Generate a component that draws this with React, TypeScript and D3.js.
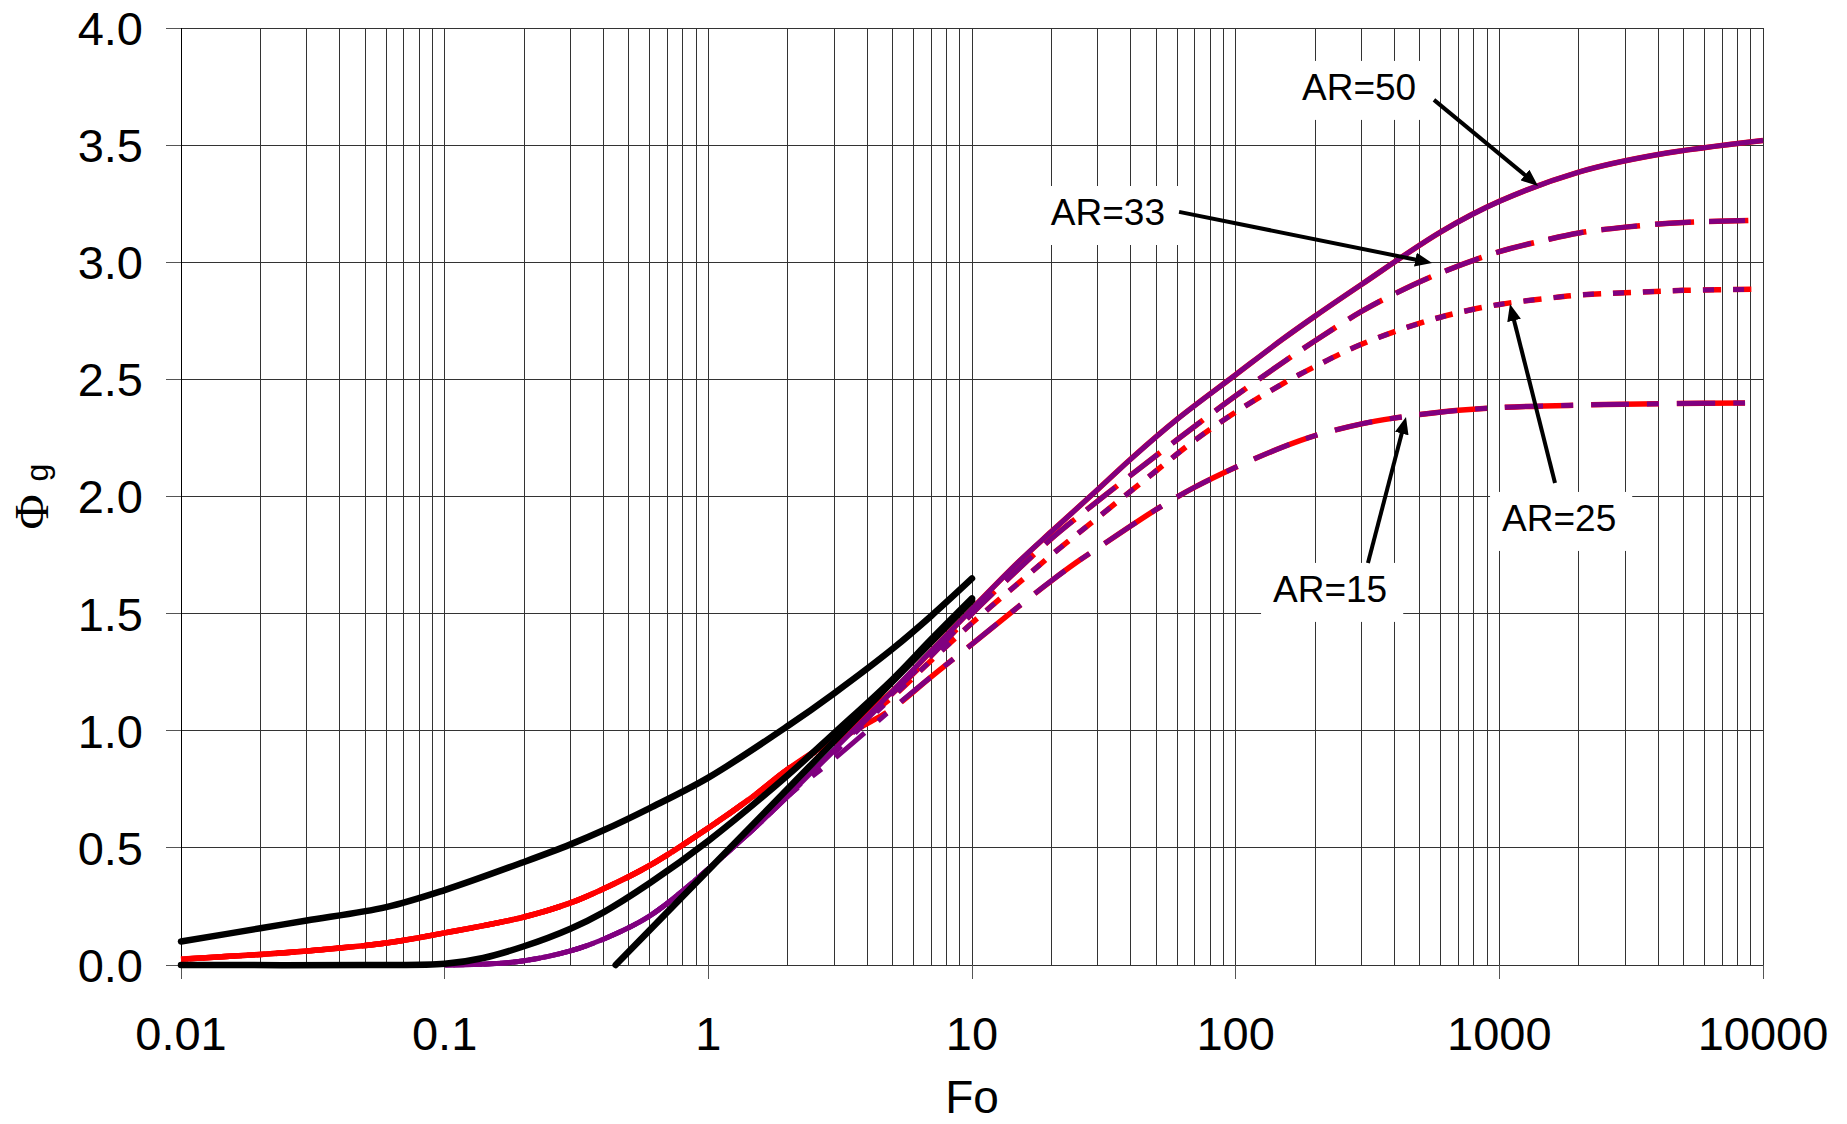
import React, { useEffect, useRef } from "react";
import * as d3 from "d3";

const width = 1847;
const height = 1124;
const plot = { left: 181, right: 1763, top: 28, bottom: 965 };

// x tick labels (decades)
const foDecades = [0.01, 0.1, 1, 10, 100, 1000, 10000];
const foDecadeLabels = ["0.01", "0.1", "1", "10", "100", "1000", "10000"];

// black curves (end at Fo = 10)
const foBlackUpper = [0.01, 0.02, 0.03, 0.06, 0.1, 0.2, 0.3, 0.4, 0.6, 1, 2, 3, 5, 7, 10];
const phiBlackUpper = [0.1, 0.157, 0.19, 0.247, 0.32, 0.44, 0.515, 0.575, 0.67, 0.8, 1.02, 1.16, 1.35, 1.49, 1.65];
const foBlackMiddle = [0.01, 0.05, 0.1, 0.14, 0.2, 0.3, 0.4, 0.6, 1, 2, 3, 5, 7, 10];
const phiBlackMiddle = [0, 0, 0.005, 0.03, 0.08, 0.155, 0.225, 0.35, 0.53, 0.81, 0.99, 1.22, 1.39, 1.565];
const foBlackLine = [0.445, 1, 3, 10];
const phiBlackLine = [0, 0.405, 0.955, 1.556];

// red curves share the early part
const foRedEarly = [0.01, 0.02, 0.03, 0.06, 0.1, 0.2, 0.3, 0.4, 0.6, 1, 1.5, 2];
const phiRedEarly = [0.025, 0.045, 0.06, 0.094, 0.137, 0.205, 0.265, 0.325, 0.425, 0.585, 0.725, 0.835];
const foRedBridge = [3, 4];
const phiRedBridge50 = [0.97, 1.08];
const phiRedBridge33 = [0.965, 1.07];
const phiRedBridge25 = [0.96, 1.06];
const phiRedBridge15 = [0.95, 1.03];

// purple curves share the early part
const foPurpleEarly = [0.1, 0.15, 0.2, 0.3, 0.4, 0.6, 1, 1.5, 2];
const phiPurpleEarly = [0, 0.005, 0.018, 0.06, 0.11, 0.21, 0.41, 0.585, 0.72];

// late part per aspect ratio
const foLate50 = [3, 4, 5, 7, 10, 15, 20, 30, 40, 60, 100, 150, 200, 300, 600, 1000, 2000, 4000, 10000];
const phiLate50 = [0.92, 1.06, 1.17, 1.34, 1.52, 1.72, 1.85, 2.03, 2.16, 2.33, 2.52, 2.67, 2.77, 2.905, 3.13, 3.26, 3.385, 3.46, 3.52];
const foLate33 = [3, 4, 5, 7, 10, 15, 20, 25, 35, 50, 70, 100, 150, 200, 300, 400, 600, 1000, 1500, 2000, 3000, 5000, 10000];
const phiLate33 = [0.915, 1.05, 1.16, 1.32, 1.5, 1.69, 1.82, 1.91, 2.04, 2.175, 2.3, 2.43, 2.57, 2.665, 2.79, 2.865, 2.955, 3.045, 3.095, 3.125, 3.15, 3.17, 3.18];
const foLate25 = [3, 4, 5, 7, 10, 15, 20, 30, 50, 70, 100, 150, 200, 300, 500, 700, 1000, 1500, 2000, 3000, 5000, 10000];
const phiLate25 = [0.905, 1.04, 1.145, 1.3, 1.46, 1.63, 1.75, 1.91, 2.11, 2.24, 2.36, 2.48, 2.555, 2.65, 2.74, 2.785, 2.82, 2.845, 2.86, 2.87, 2.88, 2.885];
const foLate15 = [3, 4, 5, 7, 10, 15, 20, 25, 30, 50, 70, 100, 150, 200, 300, 400, 500, 700, 1000, 2000, 4000, 10000];
const phiLate15 = [0.88, 1.0, 1.095, 1.23, 1.37, 1.53, 1.64, 1.72, 1.78, 1.945, 2.04, 2.125, 2.21, 2.26, 2.31, 2.335, 2.35, 2.368, 2.38, 2.39, 2.396, 2.4];

// annotations
const arLabels = ["AR=50", "AR=33", "AR=25", "AR=15"];
const arLabelFo = [178.5, 19.9, 1024, 138.6];
const arLabelPhi = [3.693, 3.159, 1.853, 1.55];
const arFromFo = [565, 61, 1626, 317.5];
const arFromPhi = [3.693, 3.215, 2.058, 1.716];
const arToFo = [1402, 555.6, 1097, 442.6];
const arToPhi = [3.326, 2.997, 2.822, 2.339];

const sans = "'Liberation Sans', Arial, sans-serif";

const App = () => {
  const ref = useRef<SVGSVGElement>(null);

  useEffect(() => {
    const svg = d3.select(ref.current);
    svg.selectAll("*").remove();

    const x = d3.scaleLog().domain([0.01, 10000]).range([plot.left, plot.right]);
    const y = d3.scaleLinear().domain([0, 4]).range([plot.bottom, plot.top]);

    svg
      .append("defs")
      .append("marker")
      .attr("id", "arrowHead")
      .attr("markerUnits", "userSpaceOnUse")
      .attr("markerWidth", 17)
      .attr("markerHeight", 14)
      .attr("refX", 7)
      .attr("refY", 7)
      .attr("orient", "auto")
      .append("path")
      .attr("d", "M0,0 L17,7 L0,14 Z")
      .attr("fill", "#000");

    // grid
    const grid = svg.append("g").attr("shape-rendering", "crispEdges");
    grid
      .selectAll("line.v")
      .data(x.ticks())
      .enter()
      .append("line")
      .attr("x1", d => x(d))
      .attr("x2", d => x(d))
      .attr("y1", plot.top)
      .attr("y2", plot.bottom)
      .attr("stroke", "#333")
      .attr("stroke-width", 1);
    grid
      .selectAll("line.h")
      .data(y.ticks(8))
      .enter()
      .append("line")
      .attr("x1", plot.left)
      .attr("x2", plot.right)
      .attr("y1", d => y(d))
      .attr("y2", d => y(d))
      .attr("stroke", "#333")
      .attr("stroke-width", 1);

    // axes ticks
    grid
      .selectAll("line.yt")
      .data(y.ticks(8))
      .enter()
      .append("line")
      .attr("x1", plot.left - 15)
      .attr("x2", plot.left)
      .attr("y1", d => y(d))
      .attr("y2", d => y(d))
      .attr("stroke", "#555");
    grid
      .selectAll("line.xt")
      .data(foDecades)
      .enter()
      .append("line")
      .attr("x1", d => x(d))
      .attr("x2", d => x(d))
      .attr("y1", plot.bottom)
      .attr("y2", plot.bottom + 14)
      .attr("stroke", "#555");
    grid
      .append("line")
      .attr("x1", plot.left)
      .attr("x2", plot.left)
      .attr("y1", plot.top)
      .attr("y2", plot.bottom)
      .attr("stroke", "#000");

    const line = d3
      .line<[number, number]>()
      .x(d => x(d[0]))
      .y(d => y(d[1]))
      .curve(d3.curveCatmullRom.alpha(0.5));

    const zip = (fo: number[], phi: number[]) => fo.map((f, i) => [f, phi[i]] as [number, number]);

    const drawCurve = (pts: [number, number][], color: string, w: number, dash: number[] | null, cap = "butt") => {
      const p = svg
        .append("path")
        .attr("d", line(pts))
        .attr("fill", "none")
        .attr("stroke", color)
        .attr("stroke-width", w)
        .attr("stroke-linecap", cap)
        .attr("stroke-linejoin", "round");
      if (dash) {
        // anchor the dash pattern at the curve's right end so red and purple stay in phase
        const period = d3.sum(dash);
        const len = (p.node() as SVGPathElement).getTotalLength();
        p.attr("stroke-dasharray", dash.join(" ")).attr("stroke-dashoffset", period - (len % period));
      }
    };

    const redEarly = zip(foRedEarly, phiRedEarly);
    const purpleEarly = zip(foPurpleEarly, phiPurpleEarly);
    const bridge = (phi: number[]) => zip(foRedBridge, phi);

    const cases = [
      { fo: foLate15, phi: phiLate15, bridge: phiRedBridge15, red: [68, 18], purple: [38, 18, 12, 18] },
      { fo: foLate25, phi: phiLate25, bridge: phiRedBridge25, red: [18, 12], purple: [11, 19] },
      { fo: foLate33, phi: phiLate33, bridge: phiRedBridge33, red: [39, 15], purple: [36, 18] },
      { fo: foLate50, phi: phiLate50, bridge: phiRedBridge50, red: null, purple: null }
    ];

    cases.forEach(c => {
      const late = zip(c.fo, c.phi);
      drawCurve([...redEarly, ...bridge(c.bridge), ...late.slice(2)], "#ff0000", 5.5, c.red);
    });
    cases.forEach(c => {
      const late = zip(c.fo, c.phi);
      drawCurve([...purpleEarly, ...late], "#800080", 5, c.purple);
    });

    drawCurve(zip(foBlackLine, phiBlackLine), "#000", 6.5, null, "round");
    drawCurve(zip(foBlackMiddle, phiBlackMiddle), "#000", 6.5, null, "round");
    drawCurve(zip(foBlackUpper, phiBlackUpper), "#000", 6.5, null, "round");

    // annotations
    arLabels.forEach((label, i) => {
      const tx = x(arLabelFo[i]);
      const ty = y(arLabelPhi[i]);
      const g = svg.append("g");
      const rect = g.append("rect").attr("fill", "#fff");
      const t = g
        .append("text")
        .attr("x", tx)
        .attr("y", ty)
        .attr("font-family", sans)
        .attr("font-size", 37)
        .attr("fill", "#000")
        .text(label);
      const tl = (t.node() as SVGTextElement).getComputedTextLength();
      rect
        .attr("x", tx - 12)
        .attr("y", ty - 39)
        .attr("width", tl + 28)
        .attr("height", 59);

      const x1 = x(arFromFo[i]);
      const y1 = y(arFromPhi[i]);
      const x2 = x(arToFo[i]);
      const y2 = y(arToPhi[i]);
      const dl = Math.hypot(x2 - x1, y2 - y1);
      const k = (dl - 10) / dl;
      svg
        .append("line")
        .attr("x1", x1)
        .attr("y1", y1)
        .attr("x2", x1 + (x2 - x1) * k)
        .attr("y2", y1 + (y2 - y1) * k)
        .attr("stroke", "#000")
        .attr("stroke-width", 4)
        .attr("marker-end", "url(#arrowHead)");
    });

    // tick labels
    svg
      .append("g")
      .selectAll("text")
      .data(y.ticks(8))
      .enter()
      .append("text")
      .attr("x", 143)
      .attr("y", d => y(d))
      .attr("dy", "0.36em")
      .attr("text-anchor", "end")
      .attr("font-family", sans)
      .attr("font-size", 47)
      .text(d => d3.format(".1f")(d));

    svg
      .append("g")
      .selectAll("text")
      .data(foDecades)
      .enter()
      .append("text")
      .attr("x", d => x(d))
      .attr("y", 1050)
      .attr("text-anchor", "middle")
      .attr("font-family", sans)
      .attr("font-size", 47)
      .text((d, i) => foDecadeLabels[i]);

    svg
      .append("text")
      .attr("x", (plot.left + plot.right) / 2)
      .attr("y", 1113)
      .attr("text-anchor", "middle")
      .attr("font-family", sans)
      .attr("font-size", 46)
      .text("Fo");

    const yt = svg
      .append("text")
      .attr("transform", `translate(48,${(plot.top + plot.bottom) / 2}) rotate(-90)`)
      .attr("text-anchor", "middle");
    yt.append("tspan")
      .attr("font-family", "'Liberation Serif', 'Times New Roman', serif")
      .attr("font-size", 48)
      .text("Φ");
    yt.append("tspan")
      .attr("font-family", sans)
      .attr("font-size", 32)
      .attr("dx", 4)
      .text(" g");
  }, []);

  return (
    <svg
      ref={ref}
      width={width}
      height={height}
      style={{ position: "absolute", left: 0, top: 0, background: "#fff", display: "block" }}
    />
  );
};

export default App;
